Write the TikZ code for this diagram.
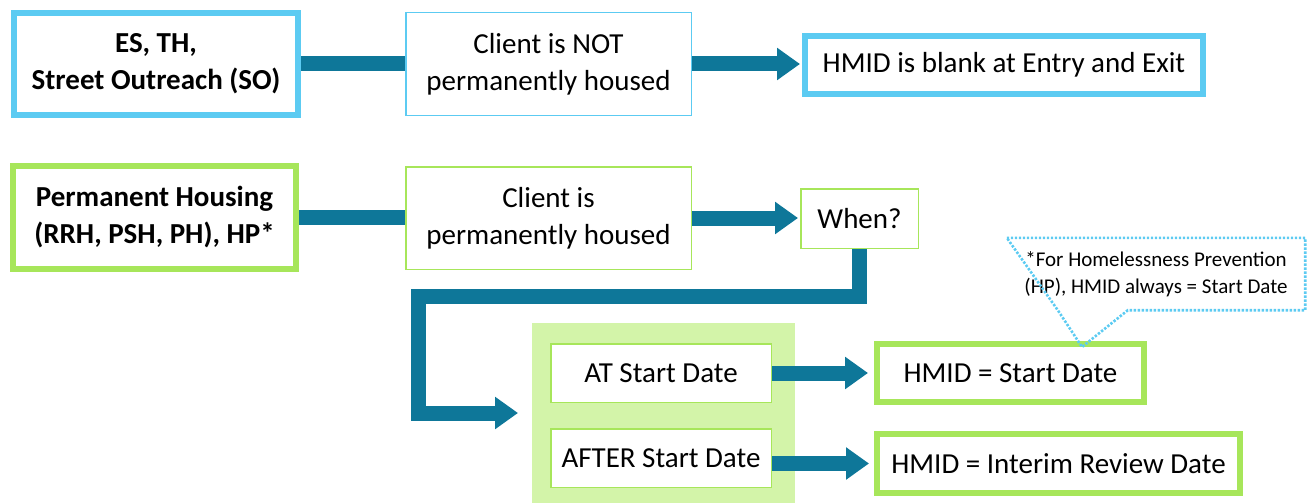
\documentclass[tikz,border=0pt]{standalone}
\usepackage{fontspec}
\setmainfont{Carlito}
\usepackage{tikz}
\usetikzlibrary{arrows.meta,calc}
\definecolor{skyblue}{HTML}{5CCBF2}
\definecolor{limegreen}{HTML}{A7E65A}
\definecolor{palegreen}{HTML}{D3F4A9}
\definecolor{flowteal}{HTML}{0E7799}

\begin{document}
\begin{tikzpicture}[x=1pt,y=-1pt,
    every node/.style={font=\fontsize{29}{37}\selectfont},
    bigbox/.style={draw=#1,line width=6pt,fill=white,inner sep=0pt,align=center},
    smallbox/.style={draw=#1,line width=1.5pt,fill=white,inner sep=0pt,align=center},
    bar/.style={draw=flowteal,line width=15pt},
    flow/.style={bar,-{Triangle[length=23pt,width=31pt]}},
    calloutline/.style={draw=skyblue,line width=2.6pt,dash pattern=on 2.4pt off 1.6pt}]
  \useasboundingbox (0,0) rectangle (1309,503);
  \node [bigbox=skyblue,minimum width=284pt,minimum height=102pt,font=\fontsize{29}{37}\selectfont\bfseries] (es) at (156,64) {ES, TH,\\Street Outreach (SO)};
  \node [smallbox=skyblue,minimum width=285.5pt,minimum height=102.5pt] (notc) at (548.5,64) {Client is NOT\\permanently housed};
  \node [bigbox=skyblue,minimum width=398pt,minimum height=58.5pt] (blank) at (1004,65) {HMID is blank at Entry and Exit};
  \node [bigbox=limegreen,minimum width=283pt,minimum height=103pt,font=\fontsize{29}{37}\selectfont\bfseries] (ph) at (154.5,217.5) {Permanent Housing\\(RRH, PSH, PH), HP*};
  \node [smallbox=limegreen,minimum width=285.5pt,minimum height=102.5pt] (isc) at (548.5,218) {Client is\\permanently housed};
  \node [smallbox=limegreen,minimum width=117.5pt,minimum height=59.5pt] (when) at (859.5,218.5) {When?};
  \node [fill=palegreen,minimum width=263pt,minimum height=180pt,inner sep=0pt,outer sep=0pt] (panel) at (663.5,413) {};
  \node [smallbox=limegreen,minimum width=220.5pt,minimum height=58.5pt] (at) at (661,373) {AT Start Date};
  \node [smallbox=limegreen,minimum width=220.5pt,minimum height=58.5pt] (after) at (661,458) {AFTER Start Date};
  \node [bigbox=limegreen,minimum width=267pt,minimum height=58pt] (hstart) at (1010.5,373) {HMID = Start Date};
  \node [bigbox=limegreen,minimum width=363pt,minimum height=59pt] (hint) at (1058.5,463.5) {HMID = Interim Review Date};
  \node [minimum width=298pt,minimum height=72pt,inner sep=0pt,align=center,font=\fontsize{21}{27}\selectfont] (cn) at (1156,274) {*For Homelessness Prevention\\(HP), HMID always = Start Date};
  \coordinate (tip) at (1082,347);
  \draw [bar] (es) -- (notc);
  \draw [bar] (ph.east) -- (ph.east -| isc.west);
  \draw [flow,shorten >=2pt] (notc.east) -- (notc.east -| blank.west);
  \draw [flow,shorten >=2pt] (isc.east) -- (isc.east -| when.west);
  \draw [flow,shorten >=14pt] (when.south) |- (418,296) |- (panel.west);
  \draw [flow,shorten >=6pt] (at.east) -- (at.east -| hstart.west);
  \draw [flow,shorten >=5pt] (after.east |- hint.west) -- (hint.west);
  \draw [calloutline] (cn.north west) -- (cn.north east) -- (cn.south east) -- ($(cn.south west)+(121,0)$) -- (tip) -- ($(cn.south west)+(51,0)$) -- cycle;
\end{tikzpicture}
\end{document}
